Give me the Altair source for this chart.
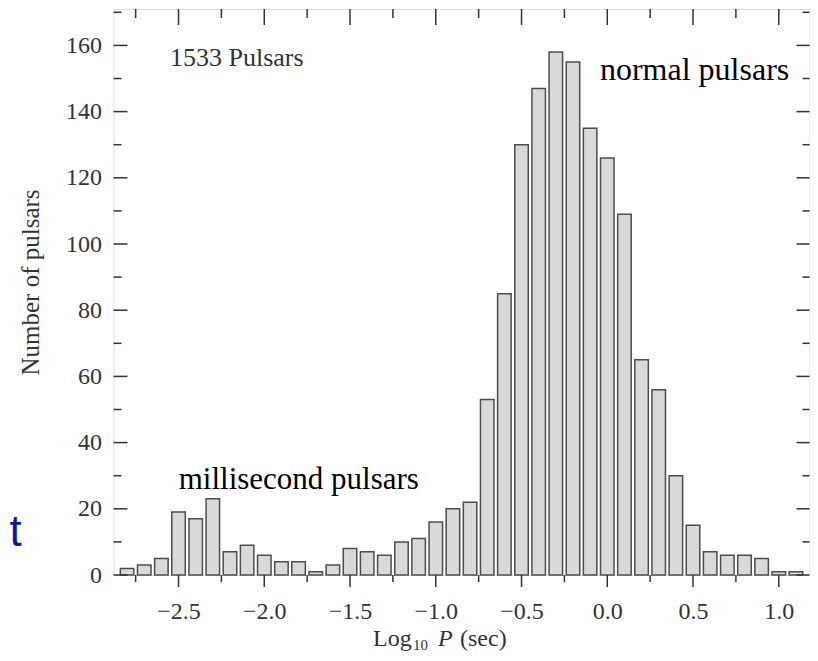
import altair as alt
import pandas as pd

# ---- data ----
bin_centers = [-2.8, -2.7, -2.6, -2.5, -2.4, -2.3, -2.2, -2.1, -2.0, -1.9,
               -1.8, -1.7, -1.6, -1.5, -1.4, -1.3, -1.2, -1.1, -1.0, -0.9,
               -0.8, -0.7, -0.6, -0.5, -0.4, -0.3, -0.2, -0.1, 0.0, 0.1,
               0.2, 0.3, 0.4, 0.5, 0.6, 0.7, 0.8, 0.9, 1.0, 1.1]
counts = [2, 3, 5, 19, 17, 23, 7, 9, 6, 4,
          4, 1, 3, 8, 7, 6, 10, 11, 16, 20,
          22, 53, 85, 130, 147, 158, 155, 135, 126, 109,
          65, 56, 30, 15, 7, 6, 6, 5, 1, 1]

x_major = [-2.5, -2.0, -1.5, -1.0, -0.5, 0.0, 0.5, 1.0]
x_minor = [-2.75, -2.25, -1.75, -1.25, -0.75, -0.25, 0.25, 0.75]
y_major = [0, 20, 40, 60, 80, 100, 120, 140, 160]
y_minor = [10, 30, 50, 70, 90, 110, 130, 150, 170]

ann_text = ["1533 Pulsars", "normal pulsars", "millisecond pulsars"]
ann_x = [-2.55, 1.061, -2.499]
ann_y = [153.8, 149.5, 26.0]

W, H = 696, 566
SERIF = "Liberation Serif"

xs = alt.Scale(domain=[-2.85, 1.15], nice=False, zero=False)
ys = alt.Scale(domain=[0, 171], nice=False, zero=False)

xaxis = alt.Axis(values=x_major, format=".1f", title=None, ticks=False, domain=False,
                 grid=False, labelFont=SERIF, labelFontSize=24, labelColor="#333",
                 labelPadding=24)
yaxis = alt.Axis(values=y_major, title="Number of pulsars", ticks=False, domain=False,
                 grid=False, labelFont=SERIF, labelFontSize=24, labelColor="#333",
                 labelPadding=12, titleFont=SERIF, titleFontSize=25,
                 titleFontWeight="normal", titleColor="#333",
                 titleX=-83.5, titleY=273, titleAlign="center", titleBaseline="middle",
                 titleAngle=270)

hist = pd.DataFrame({"x": bin_centers, "y": counts})
bars = alt.Chart(hist).mark_bar(width=13.5, fill="#d9d9d9", stroke="#4d4d4d",
                                strokeWidth=1.5).encode(
    x=alt.X("x:Q", scale=xs, axis=xaxis),
    y=alt.Y("y:Q", scale=ys, axis=yaxis),
)

xmaj = pd.DataFrame({"x": x_major})
xmin = pd.DataFrame({"x": x_minor})
ymaj = pd.DataFrame({"y": y_major})
ymin = pd.DataFrame({"y": y_minor})

def xrule(df, y0, y1):
    return alt.Chart(df).mark_rule(color="#333", strokeWidth=1.5).encode(
        x=alt.X("x:Q", scale=xs, axis=xaxis), y=alt.value(y0), y2=alt.value(y1))

def yrule(df, x0, x1):
    return alt.Chart(df).mark_rule(color="#333", strokeWidth=1.5).encode(
        y=alt.Y("y:Q", scale=ys, axis=yaxis), x=alt.value(x0), x2=alt.value(x1))

ticks = [
    xrule(xmaj, 0, 16), xrule(xmin, 0, 9),
    xrule(xmaj, H, H + 12), xrule(xmin, H, H + 7),
    yrule(ymaj, 0, 14), yrule(ymin, 0, 8),
    yrule(ymaj, W, W - 13), yrule(ymin, W, W - 7),
]

ann = pd.DataFrame({"t": ann_text, "x": ann_x, "y": ann_y})
a1 = alt.Chart(ann.iloc[[0]]).mark_text(font=SERIF, fontSize=26, color="#333",
                                        align="left", baseline="alphabetic").encode(
    x=alt.X("x:Q", scale=xs, axis=xaxis), y=alt.Y("y:Q", scale=ys, axis=yaxis), text="t:N")
a2 = alt.Chart(ann.iloc[[1]]).mark_text(font=SERIF, fontSize=32, color="black",
                                        align="right", baseline="alphabetic").encode(
    x=alt.X("x:Q", scale=xs, axis=xaxis), y=alt.Y("y:Q", scale=ys, axis=yaxis), text="t:N")
a3 = alt.Chart(ann.iloc[[2]]).mark_text(font=SERIF, fontSize=31, color="black",
                                        align="left", baseline="alphabetic").encode(
    x=alt.X("x:Q", scale=xs, axis=xaxis), y=alt.Y("y:Q", scale=ys, axis=yaxis), text="t:N")

# x-axis title with subscript and italic P
def label(txt, x, y, size, style="normal"):
    return alt.Chart(pd.DataFrame({"t": [txt]})).mark_text(
        font=SERIF, fontSize=size, fontStyle=style, color="#333",
        align="left", baseline="alphabetic").encode(
        x=alt.value(x), y=alt.value(y), text="t:N")

xtitle = [
    label("Log", 259.5, 637, 24),
    label("10", 299.5, 641, 15),
    label("P", 324.5, 637, 24, "italic"),
    label("(sec)", 346.5, 637, 24),
]

stray = alt.Chart(pd.DataFrame({"t": ["t"]})).mark_text(
    font="Liberation Sans", fontSize=44, color="#1414a0", align="left",
    baseline="alphabetic").encode(x=alt.value(-104), y=alt.value(537), text="t:N")

chart = alt.layer(bars, *ticks, a1, a2, a3, *xtitle, stray).properties(
    width=W, height=H,
    padding={"left": 105.5, "top": 1, "right": 0.5, "bottom": 78},
    autosize=alt.AutoSizeParams(type="none"),
).configure_view(stroke="#111", strokeWidth=2).configure(background="white")

chart.save("out.html", embed_options={"renderer": "svg", "actions": False})
